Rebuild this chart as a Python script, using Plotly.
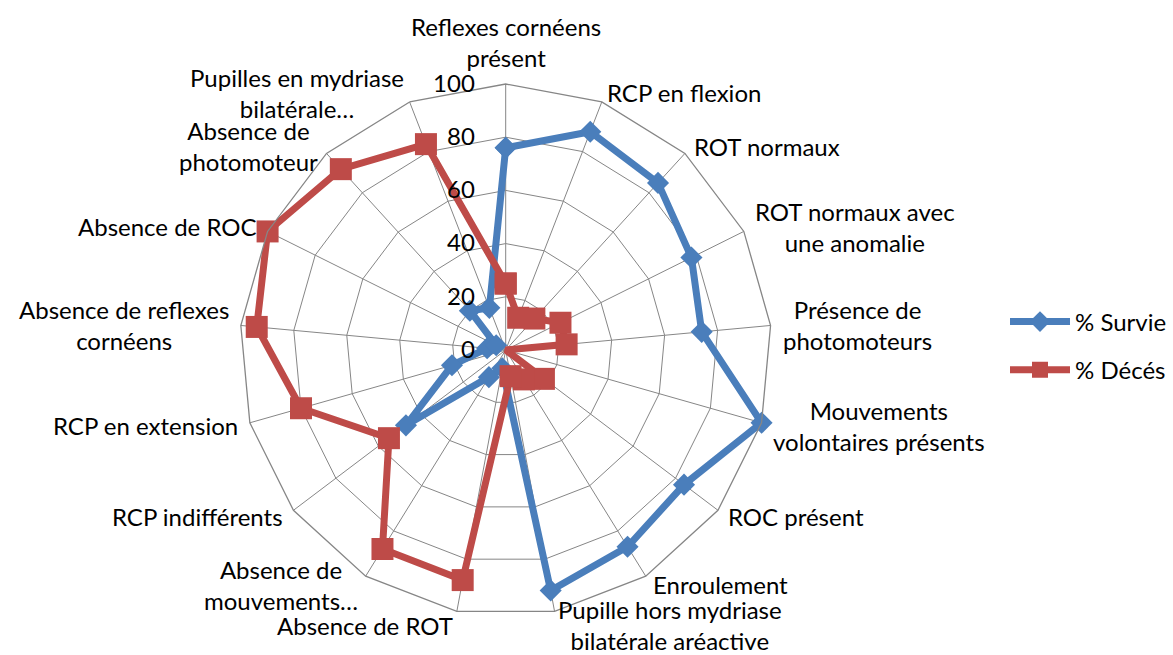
import math
import plotly.graph_objects as go

# Clinical signs, clockwise from the top of the radar
categories = [
    "Reflexes cornéens\nprésent",
    "RCP en flexion",
    "ROT normaux",
    "ROT normaux avec\nune anomalie",
    "Présence de\nphotomoteurs",
    "Mouvements\nvolontaires présents",
    "ROC présent",
    "Enroulement",
    "Pupille hors mydriase\nbilatérale aréactive",
    "Absence de ROT",
    "Absence de\nmouvements…",
    "RCP indifférents",
    "RCP en extension",
    "Absence de reflexes\ncornéens",
    "Absence de ROC",
    "Absence de\nphotomoteur",
    "Pupilles en mydriase\nbilatérale…",
]

survie = [76, 88, 85, 78, 74, 100, 84, 87, 92, 7, 12, 47, 21, 7, 4, 20, 17]
deces = [25, 13, 16, 23, 23, 0, 18, 13, 10, 88, 88, 55, 80, 94, 100, 92, 83]

radial_ticks = [0, 20, 40, 60, 80, 100]

W, H = 1173, 655
CX, CY, R = 505.7, 350.0, 266.0
FONT = "Lato"
FS = 24
GRID = "#868686"
BLUE = "#4A7EBB"
RED = "#BE4B48"

theta = [c.replace("\n", " ") for c in categories]
closed_theta = theta + theta[:1]

fig = go.Figure()
fig.add_trace(go.Scatterpolar(
    r=survie + survie[:1], theta=closed_theta, name="% Survie",
    mode="lines+markers", legendgroup="survie",
    line=dict(color=BLUE, width=7),
    marker=dict(symbol="diamond", size=17, color=BLUE),
))
fig.add_trace(go.Scatterpolar(
    r=deces + deces[:1], theta=closed_theta, name="% Décés",
    mode="lines+markers", legendgroup="deces",
    line=dict(color=RED, width=7),
    marker=dict(symbol="square", size=22, color=RED),
))

# Category labels just outside each spoke of the outer polygon
annotations = []
n = len(categories)
pad = 10
for i, label in enumerate(categories):
    a = math.radians(i * 360.0 / n)
    sx, sy = math.sin(a), -math.cos(a)
    px = CX + (R + pad) * sx
    py = CY + (R + pad) * sy
    if abs(sx) < 0.1:
        xanchor = "center"
    elif sx > 0:
        xanchor = "left"
    else:
        xanchor = "right"
    yanchor = "bottom" if sy < -0.99 else "middle"
    if sy > 0.95:
        py += 4
    annotations.append(dict(
        x=px / W, y=1 - py / H, xref="paper", yref="paper",
        text=label.replace("\n", "<br>"), showarrow=False,
        xanchor=xanchor, yanchor=yanchor, align="center",
        font=dict(family=FONT, size=FS, color="black"),
    ))

fig.update_layout(
    width=W, height=H,
    margin=dict(l=0, r=0, t=0, b=0),
    paper_bgcolor="white",
    font=dict(family=FONT, size=FS, color="black"),
    showlegend=True,
    polar=dict(
        domain=dict(x=[(CX - R) / W, (CX + R) / W],
                    y=[(H - CY - R) / H, (H - CY + R) / H]),
        bgcolor="white",
        gridshape="linear",
        angularaxis=dict(
            rotation=90, direction="clockwise",
            categoryorder="array", categoryarray=theta,
            showticklabels=False, ticks="",
            showgrid=True, gridcolor=GRID, gridwidth=1.3,
            showline=True, linecolor=GRID, linewidth=1.3,
        ),
        radialaxis=dict(
            range=[0, 100], tickvals=radial_ticks,
            angle=90, side="counterclockwise", tickangle=90,
            showline=False,
            ticks="outside", ticklen=22, tickcolor="rgba(0,0,0,0)",
            showgrid=True, gridcolor=GRID, gridwidth=1.3,
            tickfont=dict(family=FONT, size=FS, color="black"),
        ),
    ),
    legend=dict(
        x=1005 / W, y=1 - 346 / H, xanchor="left", yanchor="middle",
        itemwidth=60, tracegroupgap=14,
        font=dict(family=FONT, size=FS, color="black"),
        bgcolor="rgba(0,0,0,0)",
    ),
    annotations=annotations,
)

fig.write_html("out.html")
